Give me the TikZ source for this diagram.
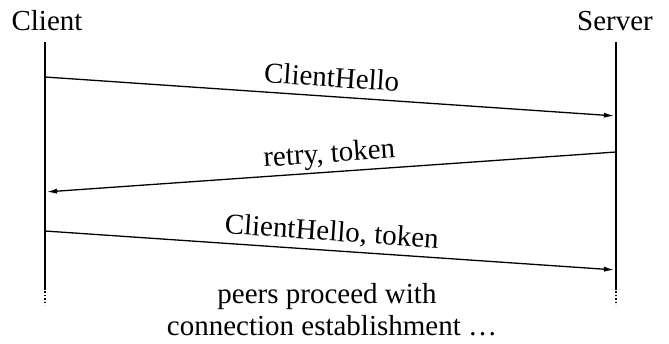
\documentclass[tikz,border=0pt]{standalone}
\usepackage{fontspec}
\setmainfont{Liberation Serif}
\usetikzlibrary{arrows.meta}

\begin{document}
\begin{tikzpicture}[x=0.5pt,y=-0.5pt,>={Latex[length=5pt,width=2.6pt]},line width=0.65pt,font=\fontsize{14.5}{17}\selectfont]
\tikzstyle{peer}=[inner sep=0pt,anchor=base]
\tikzstyle{msg}=[->,shorten >=1pt]
\tikzstyle{lbl}=[sloped,above=4.5pt,inner sep=0pt,text depth=0pt]
\tikzstyle{fade}=[dash pattern=on 0.8pt off 0.9pt]
\useasboundingbox (0,0) rectangle (669,343);
\node[peer] (client) at (47,30) {Client};
\node[peer] (server) at (615,30) {Server};
% lifelines
\coordinate (c0) at (45,42);   \coordinate (s0) at (616,42);
\coordinate (c1) at (45,77);   \coordinate (s1) at (616,116);
\coordinate (c2) at (45,192);  \coordinate (s2) at (616,152);
\coordinate (c3) at (45,231);  \coordinate (s3) at (616,270);
\coordinate (c4) at (45,288);  \coordinate (s4) at (616,288);
\coordinate (c5) at (45,305);  \coordinate (s5) at (616,305);
\draw (c0) -- (c4); \draw[fade] (c4) -- (c5);
\draw (s0) -- (s4); \draw[fade] (s4) -- (s5);
% messages
\draw[msg] (c1) -- node[lbl]{ClientHello} (s1);
\draw[msg] (s2) -- node[lbl]{retry, token} (c2);
\draw[msg] (c3) -- node[lbl]{ClientHello, token} (s3);
\node[peer] (note1) at (327,303) {peers proceed with};
\node[peer] (note2) at (332,335) {connection establishment …};
\end{tikzpicture}
\end{document}
